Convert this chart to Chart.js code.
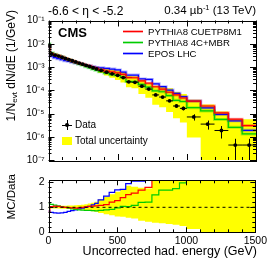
<!DOCTYPE html>
<html><head><meta charset="utf-8">
<script src="https://cdn.jsdelivr.net/npm/chart.js@4.4.1/dist/chart.umd.min.js"></script>
<style>
html,body{margin:0;padding:0;background:#fff;}
#wrap{position:relative;width:270px;height:260px;overflow:hidden;font-family:"Liberation Sans",Arial,Helvetica,sans-serif;color:#000;}
canvas{position:absolute;left:0;}
.t{position:absolute;white-space:nowrap;line-height:1;}
.rot{position:absolute;white-space:nowrap;line-height:1;transform-origin:0 0;transform:rotate(-90deg);text-align:right;}
.lg{position:absolute;left:123px;width:20px;height:3px;}
.lg i{position:absolute;left:0;right:0;top:1px;height:1px;}
</style></head>
<body><div id="wrap">
<canvas id="c1" width="270" height="170" style="top:0"></canvas>
<canvas id="c2" width="270" height="90" style="top:170px"></canvas>

<div class="t" style="left:48px;top:5px;font-size:12px">-6.6 &lt; η &lt; -5.2</div>
<div class="t" style="right:14px;top:5px;font-size:11.5px">0.34 µb<sup style="font-size:7.5px;vertical-align:4px;line-height:0">-1</sup> (13 TeV)</div>
<div class="t" style="left:58px;top:26px;font-size:13px;font-weight:bold">CMS</div>

<div class="lg" style="top:30px;background:#ffaaaa"><i style="background:#ff0000"></i></div>
<div class="t" style="left:148px;top:27px;font-size:9.6px">PYTHIA8 CUETP8M1</div>
<div class="lg" style="top:41px;background:#aaeeaa"><i style="background:#00cc00"></i></div>
<div class="t" style="left:148px;top:38px;font-size:9.6px">PYTHIA8 4C+MBR</div>
<div class="lg" style="top:52px;background:#aaaaff"><i style="background:#0000ff"></i></div>
<div class="t" style="left:148px;top:49px;font-size:9.6px">EPOS LHC</div>

<div style="position:absolute;left:62px;top:124.5px;width:10px;height:1px;background:#000"></div>
<div style="position:absolute;left:66.5px;top:120px;width:1px;height:10px;background:#000"></div>
<div style="position:absolute;left:65px;top:123px;width:4px;height:4px;border-radius:50%;background:#000"></div>
<div class="t" style="left:75px;top:120px;font-size:10px">Data</div>
<div style="position:absolute;left:62px;top:137px;width:10px;height:8px;background:#ffff00"></div>
<div class="t" style="left:75px;top:136px;font-size:10px">Total uncertainty</div>

<div class="rot" style="left:5px;top:170px;width:160px;font-size:12px">1/N<sub style="font-size:8px;vertical-align:-2px;line-height:0">evt</sub> dN/dE (1/GeV)</div>
<div class="rot" style="left:6px;top:334px;width:160px;font-size:11.5px">MC/Data</div>
<div class="t" style="right:13px;top:245px;font-size:12.5px">Uncorrected had. energy (GeV)</div>
</div>
<script>
// ---- data ----
const binEdges = [0,10,35,60,85,110,135,160,185,210,235,260,285,310,335,360,400,440,480,520,560,600,650,700,750,800,850,900,950,1000,1100,1200,1300,1400,1500];
const dataValues = [8.7e-3,3.63e-3,3.24e-3,2.95e-3,2.63e-3,2.34e-3,2.09e-3,1.86e-3,1.66e-3,1.48e-3,1.32e-3,1.17e-3,1.05e-3,9.3e-4,8.3e-4,7.1e-4,6.0e-4,5.1e-4,4.4e-4,3.5e-4,2.3e-4,2.2e-4,1.5e-4,1.12e-4,6.3e-5,5.1e-5,3.5e-5,2.1e-5,1.66e-5,7.1e-6,3.5e-6,1.86e-6,4.4e-7,4.4e-7];
const dataStatErr = [0.01,0.01,0.01,0.01,0.01,0.01,0.01,0.01,0.01,0.01,0.01,0.01,0.01,0.01,0.01,0.02,0.02,0.02,0.02,0.03,0.03,0.03,0.04,0.05,0.06,0.07,0.08,0.12,0.18,0.3,0.42,0.55,0.86,0.86];
const uncLow  = [0.93,0.95,0.95,0.95,0.94,0.94,0.93,0.93,0.92,0.91,0.90,0.88,0.86,0.84,0.82,0.77,0.72,0.68,0.63,0.62,0.58,0.55,0.46,0.42,0.38,0.36,0.33,0.30,0.25,0.13,0,0,0,0];
const uncHigh = [1.07,1.05,1.05,1.05,1.06,1.06,1.07,1.07,1.08,1.09,1.10,1.12,1.15,1.18,1.22,1.32,1.42,1.52,1.62,1.72,1.86,1.82,1.78,1.75,2.5,3.0,3.5,4.0,4.2,5.5,6.9,6.5,13,13];
const ratioCUETP8M1 = [0.85,1.03,1.05,1.04,1.02,1.00,0.99,0.98,0.97,0.98,1.00,1.02,1.04,1.05,1.06,1.08,1.11,1.21,1.27,1.39,1.51,1.57,1.69,1.80,2.24,2.19,2.34,3.0,2.8,4.8,6.0,5.75,12.9,6.9];
const ratio4CMBR    = [1.15,1.12,1.09,1.06,1.03,1.00,0.97,0.94,0.92,0.90,0.89,0.88,0.88,0.87,0.86,0.88,0.90,0.92,0.98,1.04,1.03,1.08,1.20,1.21,1.50,1.69,1.69,1.75,1.98,2.5,3.7,3.0,5.8,3.0];
const ratioEPOS     = [0.85,0.80,0.78,0.77,0.78,0.80,0.84,0.87,0.90,0.94,0.97,1.00,1.04,1.10,1.16,1.30,1.45,1.60,1.70,1.72,1.95,2.05,2.05,2.6,3.0,2.8,2.9,3.5,3.2,4.8,5.0,4.9,11,4.3];
const xTickLabels = [0,500,1000,1500];
const yDecades = [-7,-6,-5,-4,-3,-2,-1];
const ratioTickLabels = [0,1,2];

// ---- helpers ----
const FONT = '"Liberation Sans", Arial, Helvetica, sans-serif';
const n = dataValues.length;
const centers = dataValues.map((_, i) => (binEdges[i] + binEdges[i + 1]) / 2);
function steps(vals) {
  const pts = vals.map((v, i) => ({x: binEdges[i], y: v}));
  pts.push({x: binEdges[vals.length], y: vals[vals.length - 1]});
  return pts;
}
const floorLog = v => Math.max(v, 1e-9);
const topOf = r => dataValues.map((d, i) => d * r[i]);
const sup = s => String(s).split('').map(c => ({'-':'⁻','0':'⁰','1':'¹','2':'²','3':'³','4':'⁴','5':'⁵','6':'⁶','7':'⁷','8':'⁸','9':'⁹'})[c]).join('');

function stepDs(vals, color, width, extra) {
  return Object.assign({data: steps(vals), stepped: 'before', borderColor: color, borderWidth: width,
    pointRadius: 0, fill: false, clip: 0}, extra || {});
}

function frameTicks(cfg) {
  return {
    id: 'frameTicks',
    afterDraw(chart) {
      const {ctx, chartArea: a, scales: {x, y}} = chart;
      ctx.save();
      ctx.strokeStyle = '#000'; ctx.lineWidth = 1;
      ctx.beginPath();
      for (let v = 0; v <= 1500; v += 100) {
        const px = Math.round(x.getPixelForValue(v)) + 0.5;
        const L = (v % 500 === 0) ? cfg.xMaj : cfg.xMin;
        ctx.moveTo(px, a.bottom); ctx.lineTo(px, a.bottom - L);
        ctx.moveTo(px, a.top); ctx.lineTo(px, a.top + L);
      }
      for (const [v, maj] of cfg.yTicks) {
        const py = Math.round(y.getPixelForValue(v)) + 0.5;
        const L = maj ? cfg.yMaj : cfg.yMin;
        ctx.moveTo(a.left, py); ctx.lineTo(a.left + L, py);
        ctx.moveTo(a.right, py); ctx.lineTo(a.right - L, py);
      }
      ctx.stroke();
      ctx.strokeRect(Math.round(a.left) + 0.5, Math.round(a.top) + 0.5, Math.round(a.right - a.left) - 1, Math.round(a.bottom - a.top));
      ctx.restore();
    }
  };
}

const errorBars = {
  id: 'errorBars',
  afterDatasetsDraw(chart) {
    const {ctx, chartArea: a, scales: {x, y}} = chart;
    ctx.save();
    ctx.beginPath(); ctx.rect(a.left, a.top, a.right - a.left, a.bottom - a.top); ctx.clip();
    ctx.strokeStyle = '#000'; ctx.lineWidth = 1;
    ctx.beginPath();
    for (let i = 0; i < n; i++) {
      const v = dataValues[i];
      const py = y.getPixelForValue(v);
      ctx.moveTo(x.getPixelForValue(binEdges[i]), py);
      ctx.lineTo(x.getPixelForValue(binEdges[i + 1]), py);
      const px = Math.round(x.getPixelForValue(centers[i])) + 0.5;
      const lo = v * (1 - dataStatErr[i]);
      ctx.moveTo(px, lo > 0 ? y.getPixelForValue(lo) : a.bottom + 5);
      ctx.lineTo(px, y.getPixelForValue(v * (1 + dataStatErr[i])));
    }
    ctx.stroke();
    ctx.restore();
  }
};

// ---- top panel ----
const logTicks = [];
yDecades.forEach(e => { for (let m = 1; m <= 9; m++) { const v = m * Math.pow(10, e); if (v <= 0.1000001) logTicks.push([v, m === 1]); } });

new Chart(document.getElementById('c1'), {
  type: 'line',
  data: {datasets: [
    {label: 'Data', data: centers.map((c, i) => ({x: c, y: dataValues[i]})), showLine: false,
      pointRadius: 1.9, pointBackgroundColor: '#000', pointBorderWidth: 0, borderColor: '#000', clip: 0},
    stepDs(topOf(ratioCUETP8M1), '#ff0000', 1.2),
    stepDs(topOf(ratioCUETP8M1), 'rgba(255,0,0,0.3)', 3),
    stepDs(topOf(ratio4CMBR), '#00cc00', 1.2),
    stepDs(topOf(ratio4CMBR), 'rgba(0,204,0,0.3)', 3),
    stepDs(topOf(ratioEPOS), '#0000ff', 1.2),
    stepDs(topOf(ratioEPOS), 'rgba(0,0,255,0.3)', 3),
    stepDs(dataValues.map((d, i) => floorLog(d * uncLow[i])), 'rgba(0,0,0,0)', 0),
    stepDs(dataValues.map((d, i) => d * uncHigh[i]), 'rgba(0,0,0,0)', 0, {fill: '-1', backgroundColor: '#ffff00'})
  ]},
  options: {
    responsive: false, animation: false, events: [],
    layout: {padding: {left: 0, right: 14, top: 20.5, bottom: 6.5}},
    plugins: {legend: {display: false}, tooltip: {enabled: false}},
    scales: {
      x: {type: 'linear', min: 0, max: 1500, display: false},
      y: {type: 'logarithmic', min: 1e-7, max: 1e-1,
        grid: {display: false, drawTicks: false}, border: {display: false},
        afterFit(s) { s.width = 48.5; },
        afterBuildTicks(s) { s.ticks = yDecades.map(e => ({value: Math.pow(10, e)})); },
        ticks: {padding: 4, color: '#000', font: {family: FONT, size: 10},
          callback: v => '10' + sup(Math.round(Math.log10(v)))}}
    }
  },
  plugins: [errorBars, frameTicks({xMaj: 6, xMin: 3, yMaj: 6, yMin: 3, yTicks: logTicks})]
});

// ---- ratio panel ----
const ratioTicks = [];
for (let k = 0; k <= 10; k++) ratioTicks.push([k * 0.2, k % 5 === 0]);

new Chart(document.getElementById('c2'), {
  type: 'line',
  data: {datasets: [
    {data: [{x: 0, y: 1}, {x: 1500, y: 1}], borderColor: '#000', borderWidth: 1, borderDash: [3, 3], pointRadius: 0, fill: false},
    stepDs(ratioCUETP8M1, '#ff0000', 1.2),
    stepDs(ratio4CMBR, '#00cc00', 1.2),
    stepDs(ratioEPOS, '#0000ff', 1.2),
    stepDs(uncLow, 'rgba(0,0,0,0)', 0),
    stepDs(uncHigh, 'rgba(0,0,0,0)', 0, {fill: '-1', backgroundColor: '#ffff00'})
  ]},
  options: {
    responsive: false, animation: false, events: [],
    layout: {padding: {left: 0, right: 14, top: 4, bottom: 0}},
    plugins: {legend: {display: false}, tooltip: {enabled: false}},
    scales: {
      x: {type: 'linear', min: 0, max: 1500,
        grid: {display: false, drawTicks: false}, border: {display: false},
        afterFit(s) { s.height = 27.7; },
        afterBuildTicks(s) { s.ticks = xTickLabels.map(v => ({value: v})); },
        ticks: {padding: 3, color: '#000', maxRotation: 0, font: {family: FONT, size: 10.5},
          callback: v => String(v)}},
      y: {type: 'linear', min: 0, max: 2.08,
        grid: {display: false, drawTicks: false}, border: {display: false},
        afterFit(s) { s.width = 48.5; },
        afterBuildTicks(s) { s.ticks = ratioTickLabels.map(v => ({value: v})); },
        ticks: {padding: 4, color: '#000', font: {family: FONT, size: 10.5}, callback: v => String(v)}}
    }
  },
  plugins: [frameTicks({xMaj: 5, xMin: 3, yMaj: 5, yMin: 3, yTicks: ratioTicks})]
});
</script>
</body></html>
